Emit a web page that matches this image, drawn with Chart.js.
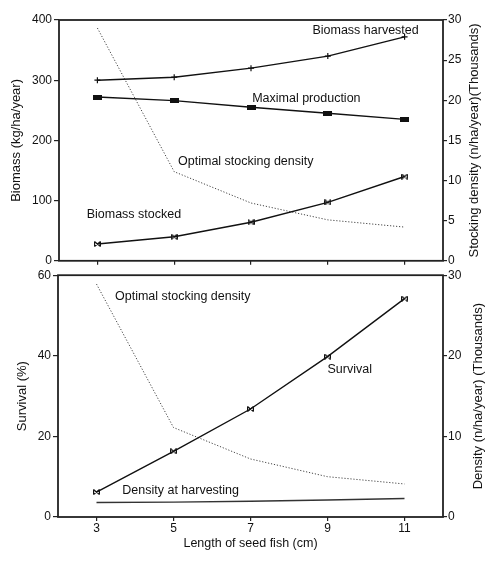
<!DOCTYPE html>
<html><head><meta charset="utf-8">
<script src="https://cdn.jsdelivr.net/npm/chart.js@4.4.1/dist/chart.umd.min.js"></script>
<style>
html,body{margin:0;padding:0;background:#fff;}
#wrap{position:relative;width:500px;height:561px;overflow:hidden;background:#fff}
canvas{position:absolute;left:0}
</style>
</head><body>
<div id="wrap">
<canvas id="c1" width="500" height="270" style="top:0px"></canvas>
<canvas id="c2" width="500" height="295" style="top:266px"></canvas>
</div>
<script>
// ---- data ----
const seedLength = [3, 5, 7, 9, 11];
const xTickLabels = ['3', '5', '7', '9', '11'];
const biomassHarvested = [300, 305, 320, 340, 372];
const maximalProduction = [272, 266, 255, 245, 235];
const biomassStocked = [28, 40, 64, 97, 140];
const optimalStockingTop = [29.0, 11.1, 7.2, 5.1, 4.2];
const survival = [6.2, 16.3, 26.8, 39.8, 54.2];
const optimalStockingBottom = [28.9, 11.1, 7.2, 5.0, 4.1];
const densityHarvesting = [1.8, 1.85, 1.95, 2.1, 2.3];
const topLeftTicks = [0, 100, 200, 300, 400];
const topRightTicks = [0, 5, 10, 15, 20, 25, 30];
const bottomLeftTicks = [0, 20, 40, 60];
const bottomRightTicks = [0, 10, 20, 30];

// ---- helpers ----
const FONT = "'Liberation Sans', Arial, Helvetica, sans-serif";
const INK = '#111';
const pts = arr => seedLength.map((x, i) => ({x: x, y: arr[i]}));

function makeBar() {
  const c = document.createElement('canvas'); c.width = 9; c.height = 5;
  const g = c.getContext('2d'); g.fillStyle = INK; g.fillRect(0, 0, 9, 5); return c;
}
function makeBowtie() {
  const c = document.createElement('canvas'); c.width = 7; c.height = 6;
  const g = c.getContext('2d'); g.strokeStyle = INK; g.lineWidth = 1.2;
  g.beginPath();
  g.moveTo(0.5, 0.5); g.lineTo(6.5, 5.5);
  g.moveTo(0.5, 5.5); g.lineTo(6.5, 0.5);
  g.moveTo(0.6, 0.5); g.lineTo(0.6, 5.5);
  g.moveTo(6.4, 0.5); g.lineTo(6.4, 5.5);
  g.stroke(); return c;
}
const barMarker = makeBar();
const bowMarker = makeBowtie();

const framePlugin = {
  id: 'frame',
  afterDraw(chart) {
    const a = chart.chartArea, ctx = chart.ctx;
    ctx.save(); ctx.strokeStyle = '#222'; ctx.lineWidth = 1.8;
    ctx.strokeRect(a.left, a.top, a.right - a.left, a.bottom - a.top);
    ctx.restore();
  }
};
const notesPlugin = {
  id: 'notes',
  afterDatasetsDraw(chart, args, opts) {
    const ctx = chart.ctx;
    ctx.save();
    ctx.fillStyle = INK; ctx.font = '12.5px ' + FONT;
    ctx.textAlign = 'left'; ctx.textBaseline = 'middle';
    (opts.items || []).forEach(n => {
      const px = chart.scales.x.getPixelForValue(n.x);
      const py = chart.scales[n.axis].getPixelForValue(n.y);
      ctx.fillText(n.text, px, py);
    });
    // right axis title, reading upward
    if (opts.rightTitle) {
      const a = chart.chartArea;
      ctx.font = '13px ' + FONT; ctx.textAlign = 'center';
      ctx.translate(opts.rightTitleX, (a.top + a.bottom) / 2);
      ctx.rotate(-Math.PI / 2);
      ctx.fillText(opts.rightTitle, 0, 0);
    }
    ctx.restore();
  }
};

const tickFont = {family: FONT, size: 12};
const titleFont = {family: FONT, size: 13};
function fixedTicks(list) { return s => { s.ticks = list.map(v => ({value: v})); }; }

function xScale(showLabels) {
  return {
    type: 'linear', min: 2, max: 12,
    afterBuildTicks: fixedTicks(seedLength),
    afterFit: s => { s.height = showLabels ? 44 : 7; },
    border: {display: false},
    grid: {drawOnChartArea: false, tickLength: 4, color: '#222', lineWidth: 1.2},
    ticks: {display: showLabels, color: INK, font: tickFont, padding: 0,
      callback: (v) => { const i = seedLength.indexOf(v); return i >= 0 ? xTickLabels[i] : ''; }},
    title: showLabels ? {display: true, text: 'Length of seed fish (cm)', color: INK,
      font: {family: FONT, size: 12.5}, padding: {top: 0, bottom: 10}} : {display: false}
  };
}
function yScale(pos, min, max, list, width, title, titlePad) {
  return {
    type: 'linear', position: pos, min: min, max: max,
    afterBuildTicks: fixedTicks(list),
    afterFit: s => { s.width = width; },
    border: {display: false},
    grid: {drawOnChartArea: false, tickLength: pos === 'left' ? 5 : 4, color: '#222', lineWidth: 1.2},
    ticks: {color: INK, font: tickFont, padding: pos === 'left' ? 2 : 1},
    title: title ? {display: true, text: title, color: INK, font: titleFont, padding: {top: titlePad, bottom: 0}} : {display: false}
  };
}

const solid = (label, arr, axis, marker, radius) => ({
  label: label, data: pts(arr), yAxisID: axis,
  borderColor: INK, borderWidth: 1.4, backgroundColor: INK,
  pointStyle: marker, pointRadius: radius, pointBorderWidth: 1.2, pointBorderColor: INK,
  tension: 0
});
const dotted = (label, arr, axis) => ({
  label: label, data: pts(arr), yAxisID: axis,
  borderColor: '#444', borderWidth: 1, borderDash: [1.2, 1.8], pointRadius: 0, tension: 0
});

const common = {
  responsive: false, animation: false, devicePixelRatio: 1,
  plugins: {legend: {display: false}, tooltip: {enabled: false}},
  events: []
};

new Chart(document.getElementById('c1'), {
  type: 'line',
  data: {datasets: [
    solid('Biomass harvested', biomassHarvested, 'y', 'cross', 3),
    solid('Maximal production', maximalProduction, 'y', barMarker, 4),
    solid('Biomass stocked', biomassStocked, 'y', bowMarker, 4),
    dotted('Optimal stocking density', optimalStockingTop, 'y2')
  ]},
  options: Object.assign({}, common, {
    layout: {padding: {top: 20, bottom: 0, left: 0, right: 0}},
    scales: {
      x: xScale(false),
      y: yScale('left', 0, 400, topLeftTicks, 59, 'Biomass (kg/ha/year)', 9),
      y2: yScale('right', 0, 30, topRightTicks, 57, null, 0)
    },
    plugins: Object.assign({}, common.plugins, {
      notes: {
        items: [
          {text: 'Biomass harvested', x: 8.6, y: 382, axis: 'y'},
          {text: 'Maximal production', x: 7.03, y: 270, axis: 'y'},
          {text: 'Optimal stocking density', x: 5.1, y: 165, axis: 'y'},
          {text: 'Biomass stocked', x: 2.72, y: 77, axis: 'y'}
        ],
        rightTitle: 'Stocking density (n/ha/year)(Thousands)', rightTitleX: 474
      }
    })
  }),
  plugins: [framePlugin, notesPlugin]
});

new Chart(document.getElementById('c2'), {
  type: 'line',
  data: {datasets: [
    solid('Survival', survival, 'y', bowMarker, 4),
    dotted('Optimal stocking density', optimalStockingBottom, 'y2'),
    Object.assign(solid('Density at harvesting', densityHarvesting, 'y2', 'circle', 0), {borderColor: '#333'})
  ]},
  options: Object.assign({}, common, {
    layout: {padding: {top: 7, bottom: 0, left: 0, right: 0}},
    scales: {
      x: xScale(true),
      y: yScale('left', 0, 60, bottomLeftTicks, 58, 'Survival (%)', 15),
      y2: yScale('right', 0, 30, bottomRightTicks, 57, null, 0)
    },
    plugins: Object.assign({}, common.plugins, {
      notes: {
        items: [
          {text: 'Optimal stocking density', x: 3.48, y: 54.6, axis: 'y'},
          {text: 'Survival', x: 9.0, y: 36.6, axis: 'y'},
          {text: 'Density at harvesting', x: 3.67, y: 6.6, axis: 'y'}
        ],
        rightTitle: 'Density (n/ha/year) (Thousands)', rightTitleX: 478
      }
    })
  }),
  plugins: [framePlugin, notesPlugin]
});
</script>
</body></html>
